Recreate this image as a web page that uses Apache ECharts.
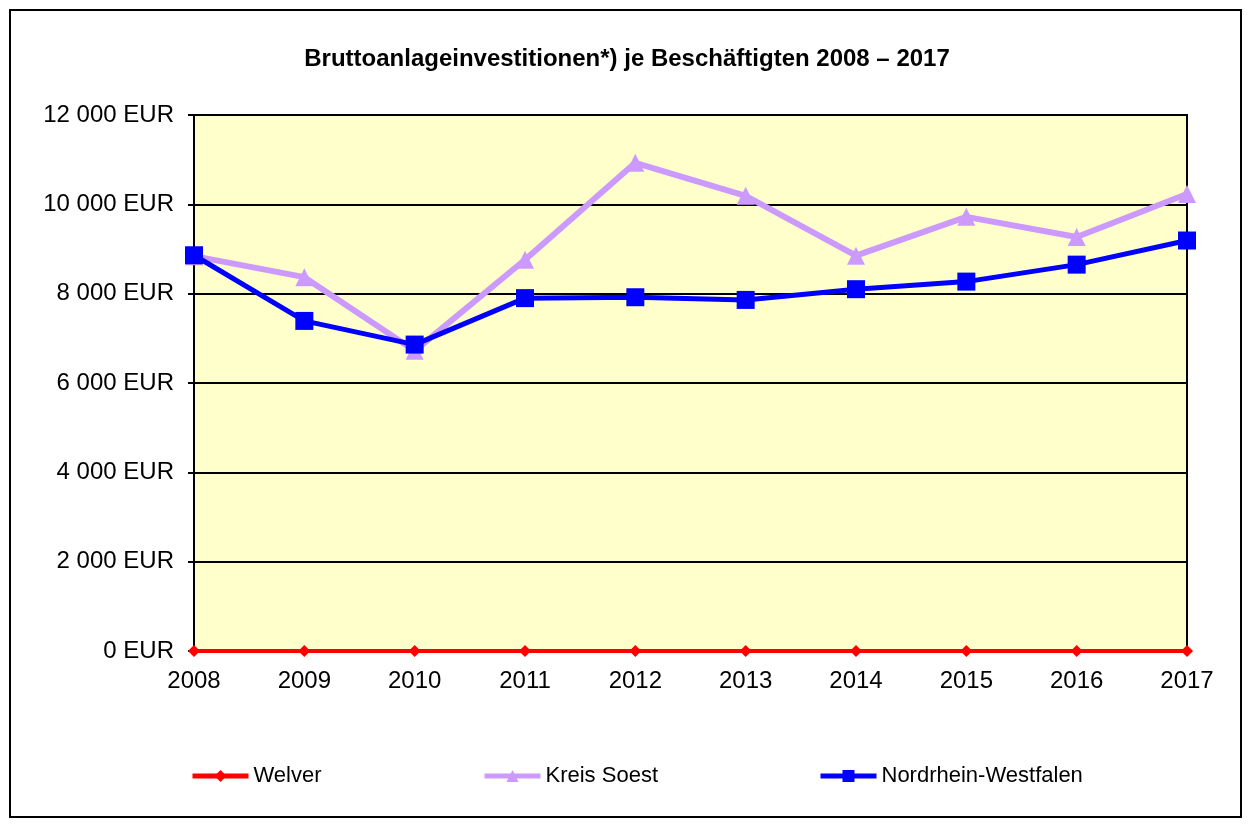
<!DOCTYPE html>
<html>
<head>
<meta charset="utf-8">
<script src="https://cdn.jsdelivr.net/npm/echarts@6/dist/echarts.min.js"></script>
<style>
  html, body { margin: 0; padding: 0; background: #fff; }
  #chart { width: 1251px; height: 827px; }
</style>
</head>
<body>
<div id="chart"></div>
<script>
const years = ['2008', '2009', '2010', '2011', '2012', '2013', '2014', '2015', '2016', '2017']
const welver = [0, 0, 0, 0, 0, 0, 0, 0, 0, 0]
const kreisSoest = [8840, 8370, 6720, 8760, 10930, 10190, 8850, 9720, 9270, 10230]
const nrw = [8860, 7390, 6860, 7900, 7920, 7860, 8100, 8270, 8650, 9190]

const font = 'Liberation Sans, Arial, sans-serif'
const chart = echarts.init(document.getElementById('chart'))

const fmt = (v) => {
  const s = String(v)
  return (s.length > 3 ? s.slice(0, -3) + ' ' + s.slice(-3) : s) + ' EUR'
}

const legendBase = {
  top: 760,
  itemWidth: 56,
  itemHeight: 15,
  lineStyle: { width: 5 },
  textStyle: { fontFamily: font, fontSize: 22, color: '#000' },
}

chart.setOption({
  backgroundColor: '#fff',
  animation: false,
  title: {
    text: 'Bruttoanlageinvestitionen*) je Beschäftigten 2008 – 2017',
    left: 622,
    top: 42,
    textAlign: 'center',
    textStyle: { fontFamily: font, fontSize: 24, fontWeight: 'bold', color: '#000' },
  },
  graphic: [{
    type: 'rect',
    shape: { x: 10, y: 10, width: 1231, height: 807 },
    style: { fill: 'none', stroke: '#000', lineWidth: 2 },
    silent: true,
  }],
  grid: {
    left: 194, top: 115, right: 64, bottom: 176,
    show: true,
    backgroundColor: '#FFFFCC',
    borderColor: '#000',
    borderWidth: 2,
  },
  legend: [
    { ...legendBase, left: 185, data: ['Welver'] },
    { ...legendBase, left: 477, data: ['Kreis Soest'] },
    { ...legendBase, left: 813, data: ['Nordrhein-Westfalen'] },
  ],
  xAxis: {
    type: 'category',
    data: years,
    boundaryGap: false,
    axisLine: { lineStyle: { color: '#000', width: 2 } },
    axisTick: { show: false },
    axisLabel: { fontFamily: font, fontSize: 24, color: '#000', margin: 18 },
  },
  yAxis: {
    type: 'value',
    min: 0,
    max: 12000,
    interval: 2000,
    axisLine: { show: true, lineStyle: { color: '#000', width: 2 } },
    axisTick: { show: true, length: 6, lineStyle: { color: '#000', width: 2 } },
    axisLabel: { fontFamily: font, fontSize: 24, color: '#000', margin: 20, formatter: fmt },
    splitLine: { lineStyle: { color: '#000', width: 2 } },
  },
  series: [
    {
      name: 'Welver',
      type: 'line',
      data: welver,
      symbol: 'diamond',
      symbolSize: 12,
      z: 3,
      lineStyle: { color: '#FF0000', width: 4 },
      itemStyle: { color: '#FF0000' },
    },
    {
      name: 'Kreis Soest',
      type: 'line',
      data: kreisSoest,
      symbol: 'triangle',
      symbolSize: 18,
      lineStyle: { color: '#CC99FF', width: 6 },
      itemStyle: { color: '#CC99FF' },
    },
    {
      name: 'Nordrhein-Westfalen',
      type: 'line',
      data: nrw,
      symbol: 'rect',
      symbolSize: 18,
      lineStyle: { color: '#0000FF', width: 5 },
      itemStyle: { color: '#0000FF' },
    },
  ],
})
</script>
</body>
</html>
